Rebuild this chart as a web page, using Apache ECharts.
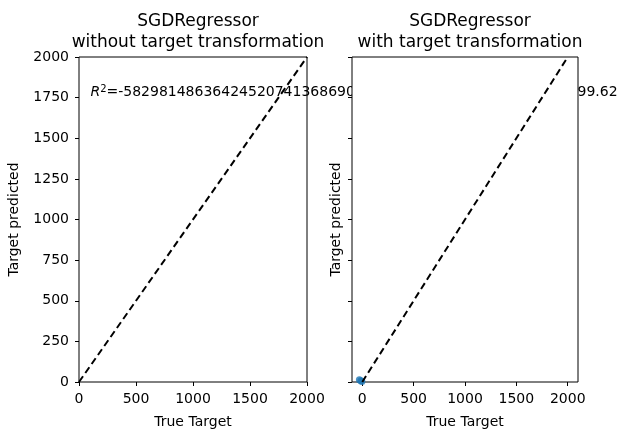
<!DOCTYPE html>
<html>
<head>
<meta charset="utf-8">
<script src="https://cdn.jsdelivr.net/npm/echarts@6/dist/echarts.min.js"></script>
<style>
  html, body { margin: 0; padding: 0; background: #fff; }
  #main { width: 622px; height: 430px; }
</style>
</head>
<body>
<div id="main"></div>
<script>
// data
var panelTitles = ['SGDRegressor\nwithout target transformation', 'SGDRegressor\nwith target transformation'];
var xTicks = [0, 500, 1000, 1500, 2000];
var yTicks = [0, 250, 500, 750, 1000, 1250, 1500, 1750, 2000];
var leftRange = [0, 2000];
var rightRange = [-100, 2100];
var diagonal = [[0, 0], [2000, 2000]];
var transformedPoints = [[-28, 14], [-14, 7], [-4, 3], [6, -4]];
var scoreAnchor = [100, 1750];
var scoreValue = '-58298148636424520741368690351728461503928174650382799.62';

var font = 'DejaVu Sans';
var myChart = echarts.init(document.getElementById('main'));

function plain(v) { return String(v); }

function xAxisFor(idx, range) {
    return {
        gridIndex: idx,
        type: 'value',
        min: range[0],
        max: range[1],
        name: 'True Target',
        nameLocation: 'middle',
        nameGap: 33,
        nameTextStyle: { color: '#000', fontSize: 14, fontFamily: font },
        axisLine: { show: false, onZero: false },
        axisTick: { show: true, length: 4, customValues: xTicks, lineStyle: { color: '#000' } },
        axisLabel: { color: '#000', fontSize: 14, fontFamily: font, margin: 10, customValues: xTicks, formatter: plain },
        splitLine: { show: false }
    };
}

function yAxisFor(idx, withLabels, gap) {
    return {
        gridIndex: idx,
        type: 'value',
        min: 0,
        max: 2000,
        interval: 250,
        name: 'Target predicted',
        nameLocation: 'middle',
        nameGap: gap,
        nameTextStyle: { color: '#000', fontSize: 14, fontFamily: font },
        axisLine: { show: false, onZero: false },
        axisTick: { show: true, length: 4, customValues: yTicks, lineStyle: { color: '#000' } },
        axisLabel: { show: withLabels, color: '#000', fontSize: 14, fontFamily: font, margin: 10, customValues: yTicks, formatter: plain },
        splitLine: { show: false }
    };
}

var option = {
    animation: false,
    backgroundColor: '#fff',
    title: [
        { text: panelTitles[0], left: 193, top: 6, textAlign: 'center',
          textStyle: { fontSize: 17, fontWeight: 'normal', color: '#000', fontFamily: font, lineHeight: 21 } },
        { text: panelTitles[1], left: 465, top: 6, textAlign: 'center',
          textStyle: { fontSize: 17, fontWeight: 'normal', color: '#000', fontFamily: font, lineHeight: 21 } }
    ],
    grid: [
        { left: 79, top: 57, width: 228, height: 325, outerBoundsMode: 'none', containLabel: false,
          show: true, borderColor: '#000', borderWidth: 1, backgroundColor: 'transparent' },
        { left: 352, top: 57, width: 226, height: 325, outerBoundsMode: 'none', containLabel: false,
          show: true, borderColor: '#000', borderWidth: 1, backgroundColor: '#fff' }
    ],
    xAxis: [xAxisFor(0, leftRange), xAxisFor(1, rightRange)],
    yAxis: [yAxisFor(0, true, 58), yAxisFor(1, false, 9)],
    series: [
        {
            type: 'line', xAxisIndex: 0, yAxisIndex: 0, data: diagonal,
            symbol: 'none', lineStyle: { color: '#000', width: 2, type: [7, 4] }, z: 3
        },
        {
            type: 'scatter', xAxisIndex: 1, yAxisIndex: 1, data: transformedPoints,
            symbolSize: 7, itemStyle: { color: '#1f77b4' }, clip: true
        },
        {
            type: 'line', xAxisIndex: 1, yAxisIndex: 1, data: diagonal,
            symbol: 'none', lineStyle: { color: '#000', width: 2, type: [7, 4] }, z: 3
        }
    ]
};

myChart.setOption(option);

// R² annotation, placed in data coords of the left panel; the right panel covers it
var pos = myChart.convertToPixel({ gridIndex: 0 }, scoreAnchor);
myChart.setOption({
    graphic: [{
        type: 'text',
        z: -1,
        x: pos[0],
        y: pos[1] + 3,
        style: {
            text: '{i|R}{s|2}{n|=' + scoreValue + '}',
            textVerticalAlign: 'bottom',
            rich: {
                i: { fontStyle: 'italic', fontSize: 14, fontFamily: font, fill: '#000' },
                s: { fontSize: 10, fontFamily: font, fill: '#000', verticalAlign: 'top', padding: [0, 0, 6, 0] },
                n: { fontSize: 14, fontFamily: font, fill: '#000' }
            }
        }
    }]
});
</script>
</body>
</html>
